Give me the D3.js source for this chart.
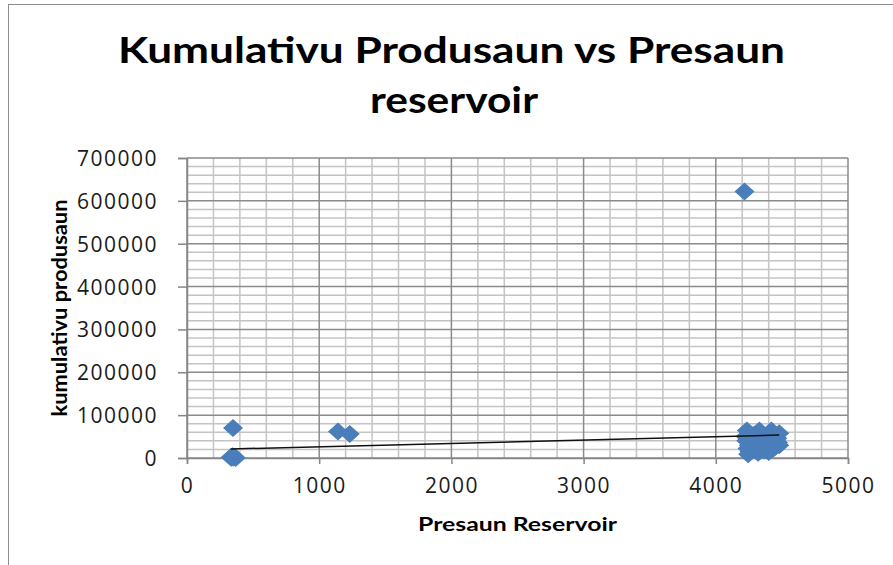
<!DOCTYPE html>
<html lang="en">
<head>
<meta charset="UTF-8">
<title>Kumulativu Produsaun vs Presaun reservoir</title>
<script src="https://cdn.jsdelivr.net/npm/d3@7"></script>
<style>
body { margin: 0; background: #fff; }
svg { display: block; }
.tick-label { font-family: "Open Sans", sans-serif; font-size: 21px; fill: #1a1a1a; letter-spacing: 1.5px; }
.title { font-family: Lato, sans-serif; font-weight: bold; fill: #000; }
</style>
</head>
<body>
<div id="chart"></div>
<script>
// presaun reservoir (x) vs kumulativu produsaun (y)
var presaun = [
  330, 338, 345, 352, 360, 368, 348,
  1142, 1231,
  4217,
  4225, 4230, 4235, 4240, 4245, 4250, 4255, 4260, 4270, 4285, 4290, 4300, 4310, 4320, 4330, 4340,
  4345, 4360, 4370, 4380, 4390, 4400, 4410, 4420, 4425, 4435, 4450, 4455, 4470, 4480, 4480, 4465
];
var kumulativu = [
  2000, 500, 4000, 1000, 3000, 0, 70000,
  62000, 56000,
  622000,
  50000, 40000, 64000, 22000, 9000, 30000, 15000, 34000, 46000, 28000, 54000, 20000, 30000, 12000, 64000, 25000,
  40000, 30000, 18000, 38000, 50000, 14000, 27000, 64000, 28000, 22000, 26000, 42000, 36000, 58000, 30000, 46000
];
var xTicks = [0, 1000, 2000, 3000, 4000, 5000];
var yTicks = [0, 100000, 200000, 300000, 400000, 500000, 600000, 700000];
var titleLines = ["Kumulativu Produsaun vs Presaun", "reservoir"];
var xTitle = "Presaun Reservoir";
var yTitle = "kumulativu produsaun";

var W = 893, H = 565;
var plot = { left: 187, right: 848, top: 158, bottom: 458 };

var svg = d3.select("#chart").append("svg")
  .attr("width", W).attr("height", H);

// outer chart frame
svg.append("rect")
  .attr("x", 8.5).attr("y", 4.5)
  .attr("width", 1000).attr("height", 1000)
  .attr("fill", "#fff").attr("stroke", "#8c8c8c");

var x = d3.scaleLinear().domain([0, 5000]).range([plot.left, plot.right]);
var y = d3.scaleLinear().domain([0, 700000]).range([plot.bottom, plot.top]);

// minor gridlines
var xMinor = d3.range(0, 5001, 200).filter(function(v) { return v % 1000 !== 0; });
var yMinor = d3.range(0, 700001, 20000).filter(function(v) { return v % 100000 !== 0; });
var grid = svg.append("g");
grid.selectAll(".xm").data(xMinor).enter().append("line")
  .attr("x1", function(d) { return x(d); }).attr("x2", function(d) { return x(d); })
  .attr("y1", plot.top).attr("y2", plot.bottom)
  .attr("stroke", "#c4c4c4").attr("stroke-width", 1.5);
grid.selectAll(".ym").data(yMinor).enter().append("line")
  .attr("x1", plot.left).attr("x2", plot.right)
  .attr("y1", function(d) { return y(d); }).attr("y2", function(d) { return y(d); })
  .attr("stroke", "#c4c4c4").attr("stroke-width", 1.5);

// major gridlines
grid.selectAll(".xM").data(xTicks).enter().append("line")
  .attr("x1", function(d) { return x(d); }).attr("x2", function(d) { return x(d); })
  .attr("y1", plot.top).attr("y2", plot.bottom)
  .attr("stroke", "#8a8a8a").attr("stroke-width", 1.5);
grid.selectAll(".yM").data(yTicks).enter().append("line")
  .attr("x1", plot.left).attr("x2", plot.right)
  .attr("y1", function(d) { return y(d); }).attr("y2", function(d) { return y(d); })
  .attr("stroke", "#8a8a8a").attr("stroke-width", 1.5);

// axes
var xAxis = svg.append("g")
  .attr("transform", "translate(0," + plot.bottom + ")")
  .call(d3.axisBottom(x).tickValues(xTicks).tickSize(6).tickPadding(14).tickFormat(d3.format("d")));
var yAxis = svg.append("g")
  .attr("transform", "translate(" + plot.left + ",0)")
  .call(d3.axisLeft(y).tickValues(yTicks).tickSize(9).tickPadding(20).tickFormat(d3.format("d")));
[xAxis, yAxis].forEach(function(a) {
  a.select(".domain").attr("stroke", "#868686").attr("stroke-width", 1.5);
  a.selectAll(".tick line").attr("stroke", "#868686").attr("stroke-width", 1.5);
  a.selectAll(".tick text").attr("class", "tick-label").attr("font-family", null).attr("font-size", null);
});
xAxis.selectAll(".tick text").attr("dy", "0.72em");
yAxis.selectAll(".tick text").attr("dy", "0.36em");

// points
var pts = presaun.map(function(v, i) { return [v, kumulativu[i]]; });
var diamond = "M0,-9L10,0L0,9L-10,0Z";
svg.append("g").selectAll("path").data(pts).enter().append("path")
  .attr("d", diamond)
  .attr("transform", function(d) { return "translate(" + x(d[0]) + "," + y(d[1]) + ")"; })
  .attr("fill", "#4a7ebb");

// linear trendline (least squares)
var mx = d3.mean(presaun), my = d3.mean(kumulativu);
var sxy = d3.sum(pts, function(d) { return (d[0] - mx) * (d[1] - my); });
var sxx = d3.sum(presaun, function(v) { return (v - mx) * (v - mx); });
var slope = sxy / sxx, icpt = my - slope * mx;
var ext = d3.extent(presaun);
svg.append("path")
  .datum(ext.map(function(v) { return [v, icpt + slope * v]; }))
  .attr("d", d3.line().x(function(d) { return x(d[0]); }).y(function(d) { return y(d[1]); }))
  .attr("stroke", "#111").attr("stroke-width", 1.5).attr("fill", "none");

// titles
svg.append("text").attr("class", "title")
  .attr("x", 451.5).attr("y", 63).attr("text-anchor", "middle")
  .attr("font-size", 37).attr("textLength", 667).attr("lengthAdjust", "spacingAndGlyphs")
  .text(titleLines[0]);
svg.append("text").attr("class", "title")
  .attr("x", 454).attr("y", 113).attr("text-anchor", "middle")
  .attr("font-size", 37).attr("textLength", 168).attr("lengthAdjust", "spacingAndGlyphs")
  .text(titleLines[1]);

svg.append("text").attr("class", "title")
  .attr("x", (plot.left + plot.right) / 2).attr("y", 531).attr("text-anchor", "middle")
  .attr("font-size", 19).attr("textLength", 199).attr("lengthAdjust", "spacingAndGlyphs")
  .text(xTitle);
svg.append("text").attr("class", "title")
  .attr("transform", "translate(67," + (plot.top + plot.bottom) / 2 + ") rotate(-90)")
  .attr("text-anchor", "middle")
  .attr("font-size", 20).attr("textLength", 217).attr("lengthAdjust", "spacingAndGlyphs")
  .text(yTitle);
</script>
</body>
</html>
